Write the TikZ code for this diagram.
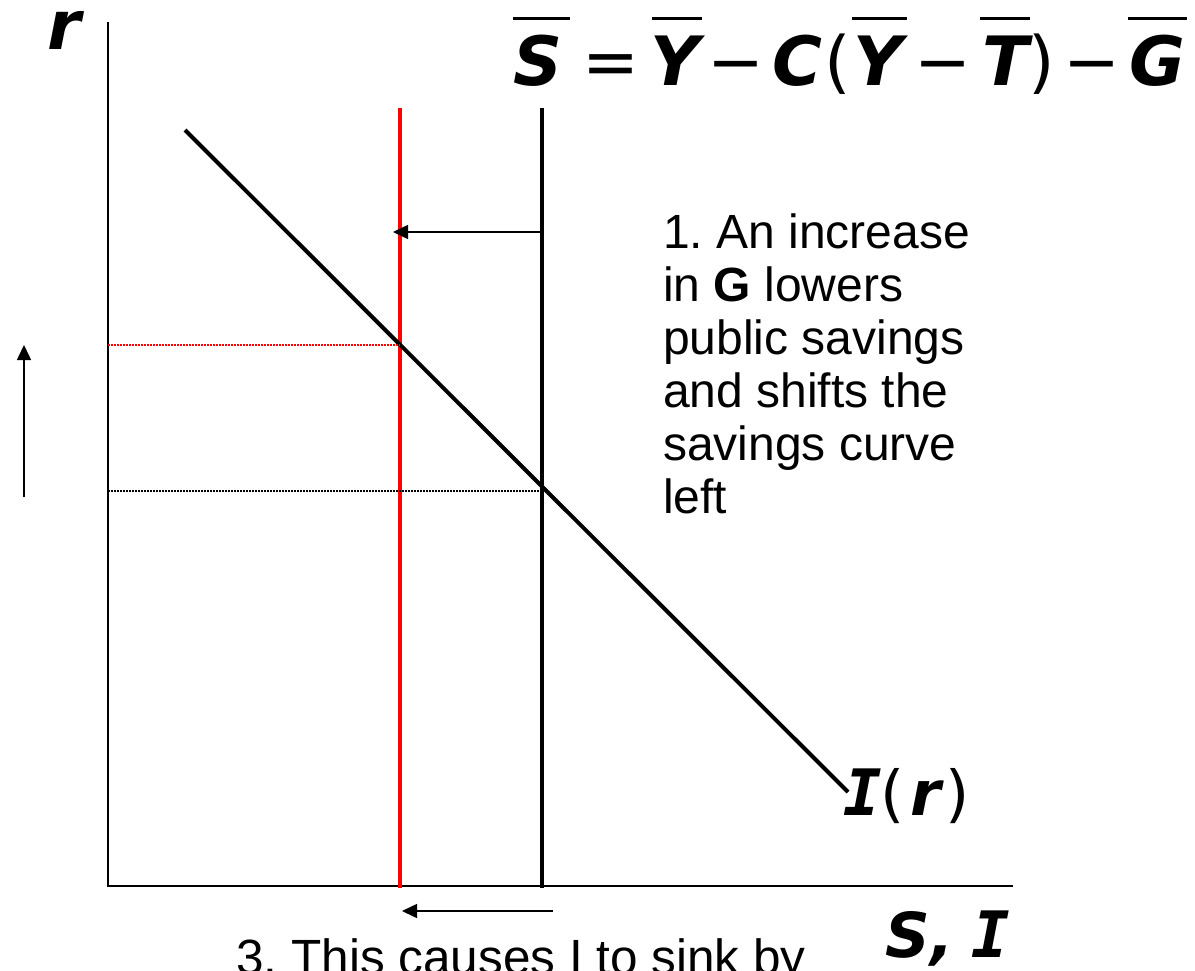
\documentclass[tikz,border=0pt]{standalone}
\usepackage{fontspec}
\setmainfont{Liberation Sans}
\newfontfamily\eqf{DejaVu Sans}
\newfontfamily\monof{DejaVu Sans Mono}
\usetikzlibrary{arrows.meta}
\frenchspacing
\tikzset{
  eqsym/.style={inner sep=0pt, anchor=base, font=\eqf\fontsize{68}{80}\selectfont\bfseries\itshape},
  eqop/.style={inner sep=0pt, anchor=base, font=\eqf\fontsize{68}{80}\selectfont},
  lblsym/.style={inner sep=0pt, anchor=base, font=\eqf\fontsize{62}{74}\selectfont\bfseries\itshape},
  lblmono/.style={inner sep=0pt, anchor=base, font=\monof\fontsize{64}{74}\selectfont\bfseries\itshape},
  lblop/.style={inner sep=0pt, anchor=base, font=\eqf\fontsize{62}{74}\selectfont},
  bar/.style={line width=3pt},
  axisline/.style={line width=2.5pt},
  curve/.style={line width=4pt},
  thinarrow/.style={line width=1.5pt, -{Triangle[length=15pt,width=14pt]}},
  dotline/.style={line width=2pt, dash pattern=on 1.5pt off 1.5pt},
  para/.style={inner sep=0pt, anchor=base west, font=\fontsize{48}{53}\selectfont},
}
\begin{document}
\begin{tikzpicture}[x=1pt,y=-1pt]
\useasboundingbox (0,0) rectangle (1195,971);
% axes
\coordinate (ytop) at (108,22);
\coordinate (orig) at (108,886);
\coordinate (xend) at (1013,886);
\draw[axisline] (ytop) -- (orig) -- (xend);
% curves
\coordinate (redtop) at (400,108);
\coordinate (redbot) at (400,888);
\coordinate (blktop) at (542,108);
\coordinate (blkbot) at (542,888);
\coordinate (itop) at (185,130);
\coordinate (ibot) at (848,792);
\draw[curve, red] (redtop) -- (redbot);
\draw[curve] (blktop) -- (blkbot);
\draw[curve] (itop) -- (ibot);
% dotted levels
\coordinate (rl) at (108,345);
\coordinate (rr) at (400,345);
\coordinate (bl) at (108,491);
\coordinate (br) at (542,491);
\draw[dotline, red] (rl) -- (rr);
\draw[dotline] (bl) -- (br);
% arrows
\coordinate (a1s) at (542,232);
\coordinate (a1e) at (393,232);
\draw[thinarrow] (a1s) -- (a1e);
\coordinate (a2s) at (24,497);
\coordinate (a2e) at (24,345);
\draw[thinarrow] (a2s) -- (a2e);
\coordinate (a3s) at (553,911);
\coordinate (a3e) at (402,911);
\draw[thinarrow] (a3s) -- (a3e);
% axis labels
\node[eqsym] (rlab) at (64,50) {r};
\node[lblsym] (slab) at (920,957) {S,};
\node[lblmono] (ilab) at (991,957) {I};
% I(r) label
\node[lblmono] (irI) at (863,815) {I};
\node[lblop] (irL) at (893,815) {(};
\node[lblsym] (irr) at (926,815) {r};
\node[lblop] (irR) at (958,815) {)};
% formula
\node[eqsym] (fS) at (538,86) {S};
\node[eqop] (feq) at (611,86) {=};
\node[eqsym] (fY1) at (675,86) {Y};
\node[eqop] (fm1) at (736,86) {−};
\node[eqsym] (fC) at (797,86) {C};
\node[eqop] (fL) at (838,86) {(};
\node[eqsym] (fY2) at (878,86) {Y};
\node[eqop] (fm2) at (943,86) {−};
\node[eqsym] (fT) at (1006,86) {T};
\node[eqop] (fR) at (1042,86) {)};
\node[eqop] (fm3) at (1092,86) {−};
\node[eqsym] (fG) at (1157,86) {G};
\draw[bar] (513,19) -- (570,19);
\draw[bar] (652,19) -- (702,19);
\draw[bar] (852,19) -- (907,19);
\draw[bar] (980,19) -- (1030,19);
\draw[bar] (1128,19) -- (1187,19);
% paragraph
\node[para] (p1) at (663,248) {1. An increase};
\node[para] (p2) at (663,301) {in \textbf{G} lowers};
\node[para] (p3) at (663,354) {public savings};
\node[para] (p4) at (663,407) {and shifts the};
\node[para] (p5) at (663,460) {savings curve};
\node[para] (p6) at (663,513) {left};
% bottom text
\node[inner sep=0pt, anchor=base, font=\fontsize{49.5}{56}\selectfont] (bot) at (521,974) {3. This causes I to sink by};
\end{tikzpicture}
\end{document}
